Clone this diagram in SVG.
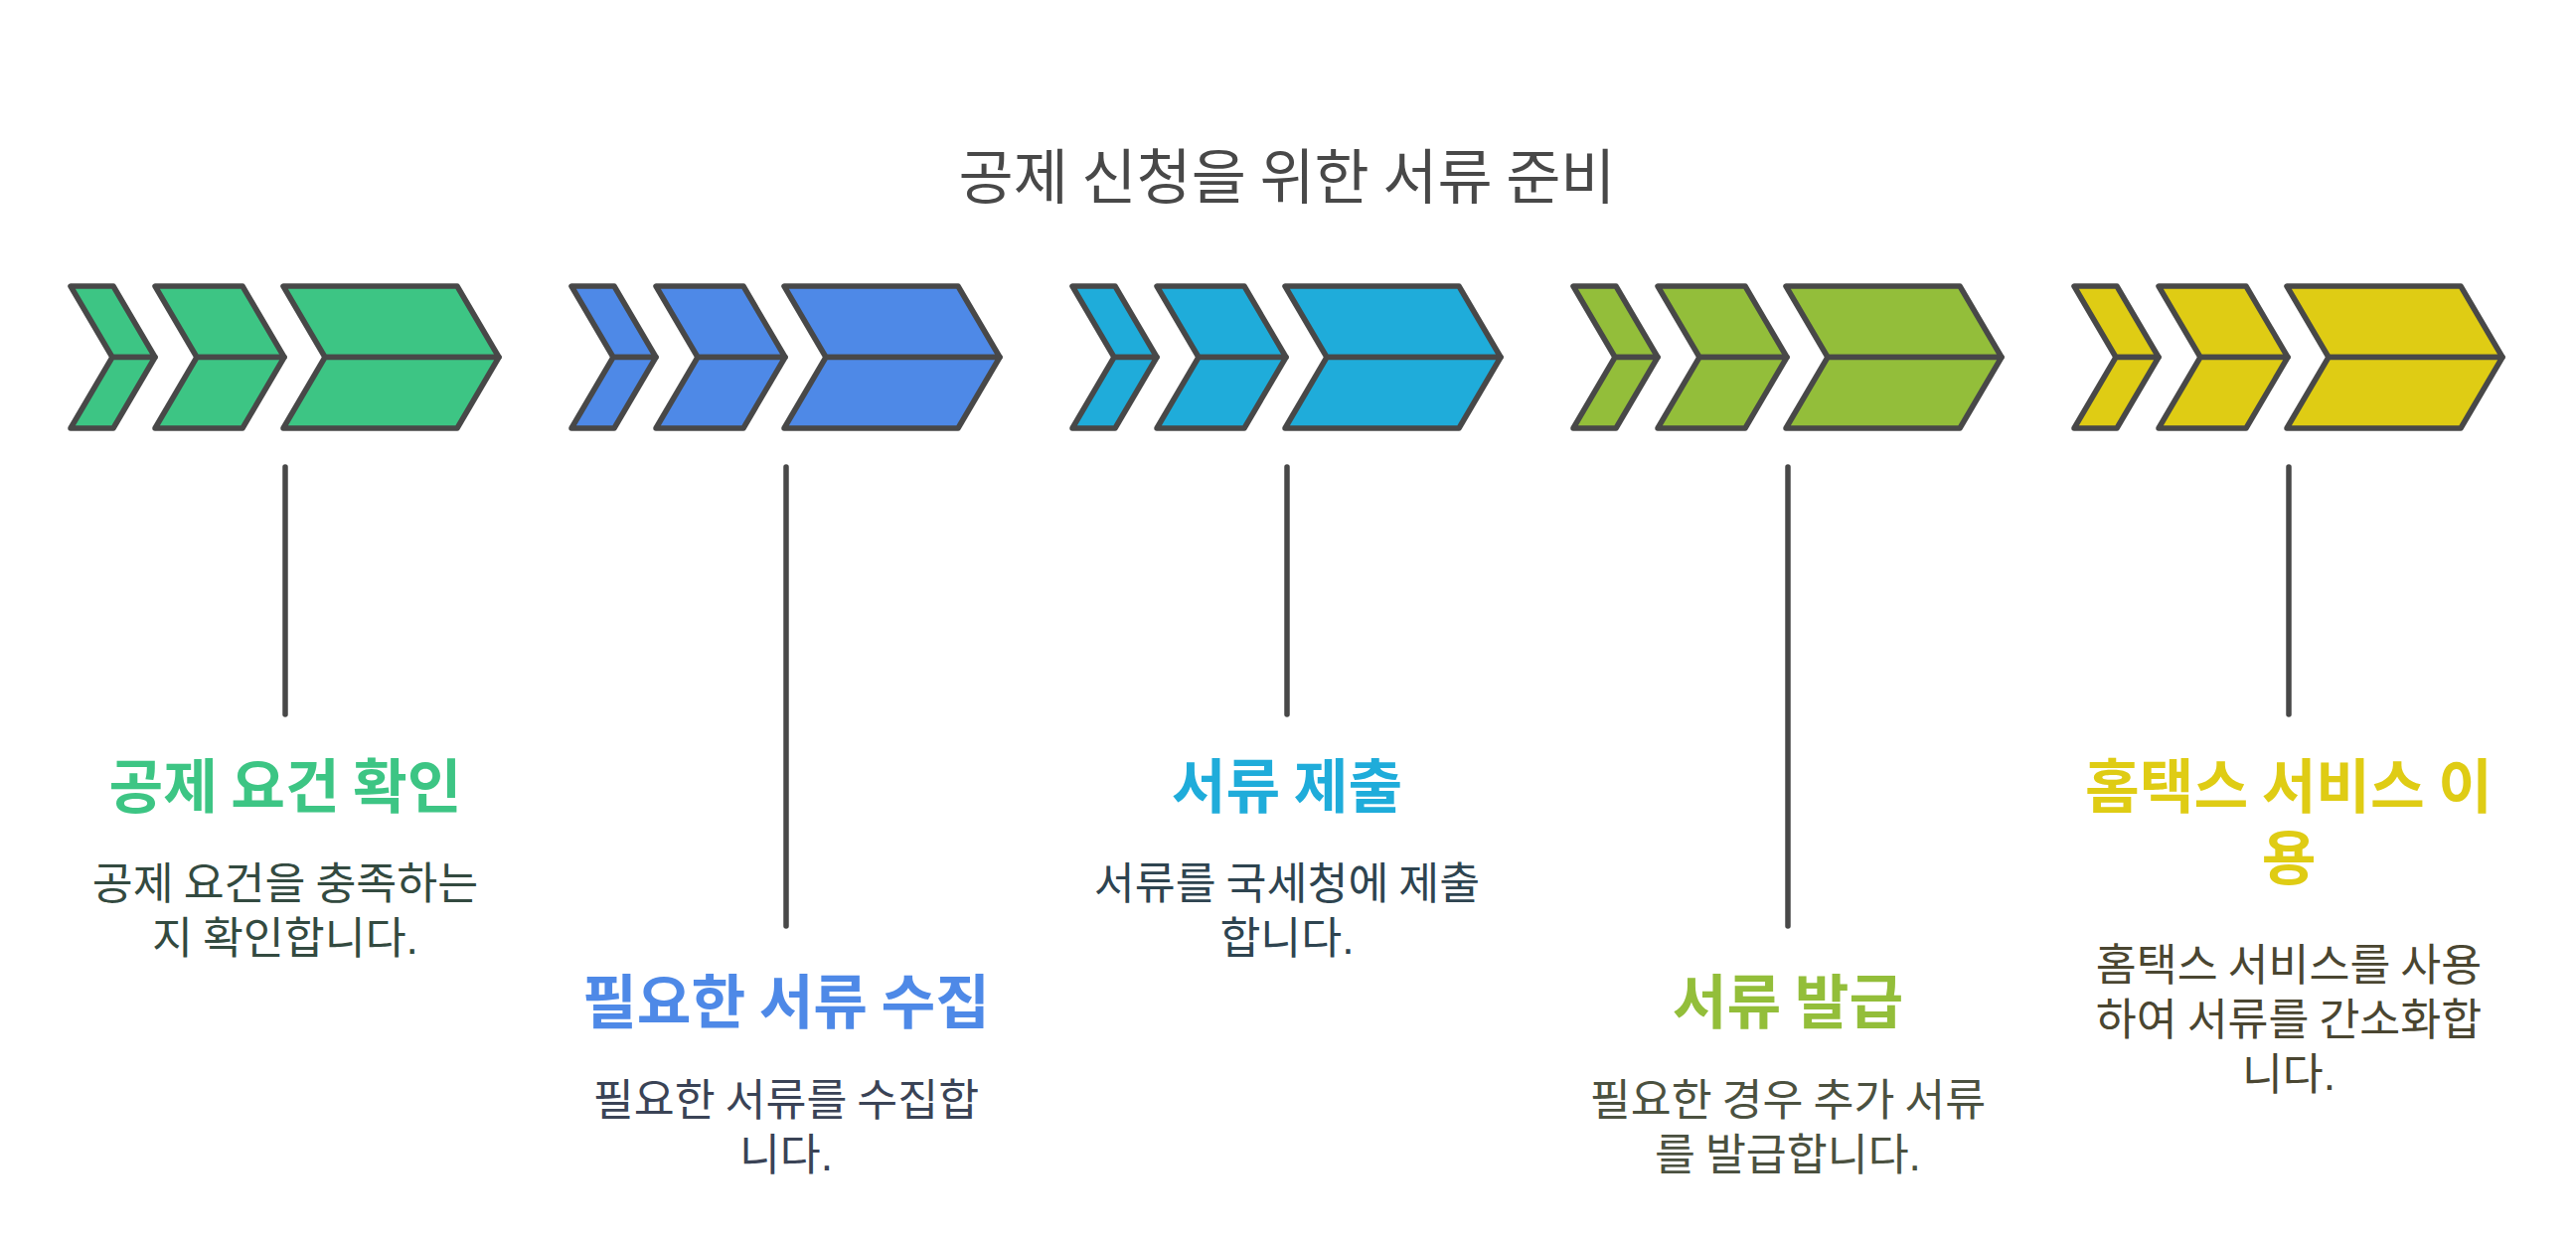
<svg xmlns="http://www.w3.org/2000/svg" width="2592" height="1245" viewBox="0 0 2592 1245">
<defs>
<style>
.ch{stroke:#484848;stroke-width:5.5;stroke-linejoin:round}
.ln{stroke:#484848;stroke-width:5.5;stroke-linecap:round;fill:none}
text{font-family:"Liberation Sans","Noto Sans CJK KR",sans-serif;text-anchor:middle}
.hd{font-size:60px;fill:#484848;word-spacing:-3.2px}
.tt{font-size:59.5px;font-weight:bold;word-spacing:-3.2px}
.ds{font-size:44.5px;word-spacing:-2.4px}
</style>
<g id="chev">
<polygon points="0,288 43,288 85,359.5 42,359.5"/>
<polygon points="42,359.5 85,359.5 43,431 0,431"/>
<polygon points="85,288 173,288 215,359.5 127,359.5"/>
<polygon points="127,359.5 215,359.5 173,431 85,431"/>
<polygon points="214,288 389,288 431,359.5 256,359.5"/>
<polygon points="256,359.5 431,359.5 389,431 214,431"/>
</g>
</defs>
<rect width="2592" height="1245" fill="#ffffff"/>
<text id="title" class="hd" x="1295" y="200">공제 신청을 위한 서류 준비</text>
<g id="connectors">
<line class="ln" x1="287" y1="470" x2="287" y2="719"/>
<line class="ln" x1="791" y1="470" x2="791" y2="932"/>
<line class="ln" x1="1295" y1="470" x2="1295" y2="719"/>
<line class="ln" x1="1799" y1="470" x2="1799" y2="932"/>
<line class="ln" x1="2303" y1="470" x2="2303" y2="719"/>
</g>
<g id="step1">
<use href="#chev" x="71" class="ch" fill="#3DC584"/>
<text class="tt" x="287" y="813" fill="#3DC584">공제 요건 확인</text>
<text class="ds" fill="#334A40"><tspan x="287" y="905">공제 요건을 충족하는</tspan><tspan x="287" y="960">지 확인합니다.</tspan></text>
</g>
<g id="step2">
<use href="#chev" x="575" class="ch" fill="#4E89E7"/>
<text class="tt" x="791" y="1030" fill="#4E89E7">필요한 서류 수집</text>
<text class="ds" fill="#3A4356"><tspan x="791" y="1123">필요한 서류를 수집합</tspan><tspan x="791" y="1178">니다.</tspan></text>
</g>
<g id="step3">
<use href="#chev" x="1079" class="ch" fill="#1FACDA"/>
<text class="tt" x="1295" y="813" fill="#1FACDA">서류 제출</text>
<text class="ds" fill="#2E4450"><tspan x="1295" y="905">서류를 국세청에 제출</tspan><tspan x="1295" y="960">합니다.</tspan></text>
</g>
<g id="step4">
<use href="#chev" x="1583" class="ch" fill="#93BE3A"/>
<text class="tt" x="1799" y="1030" fill="#93BE3A">서류 발급</text>
<text class="ds" fill="#4B5140"><tspan x="1799" y="1123">필요한 경우 추가 서류</tspan><tspan x="1799" y="1178">를 발급합니다.</tspan></text>
</g>
<g id="step5">
<use href="#chev" x="2087" class="ch" fill="#DFCC14"/>
<text class="tt" fill="#DFCC14"><tspan x="2303" y="813">홈택스 서비스 이</tspan><tspan x="2303" y="885">용</tspan></text>
<text class="ds" fill="#4A4631"><tspan x="2303" y="987">홈택스 서비스를 사용</tspan><tspan x="2303" y="1042">하여 서류를 간소화합</tspan><tspan x="2303" y="1097">니다.</tspan></text>
</g>
</svg>
